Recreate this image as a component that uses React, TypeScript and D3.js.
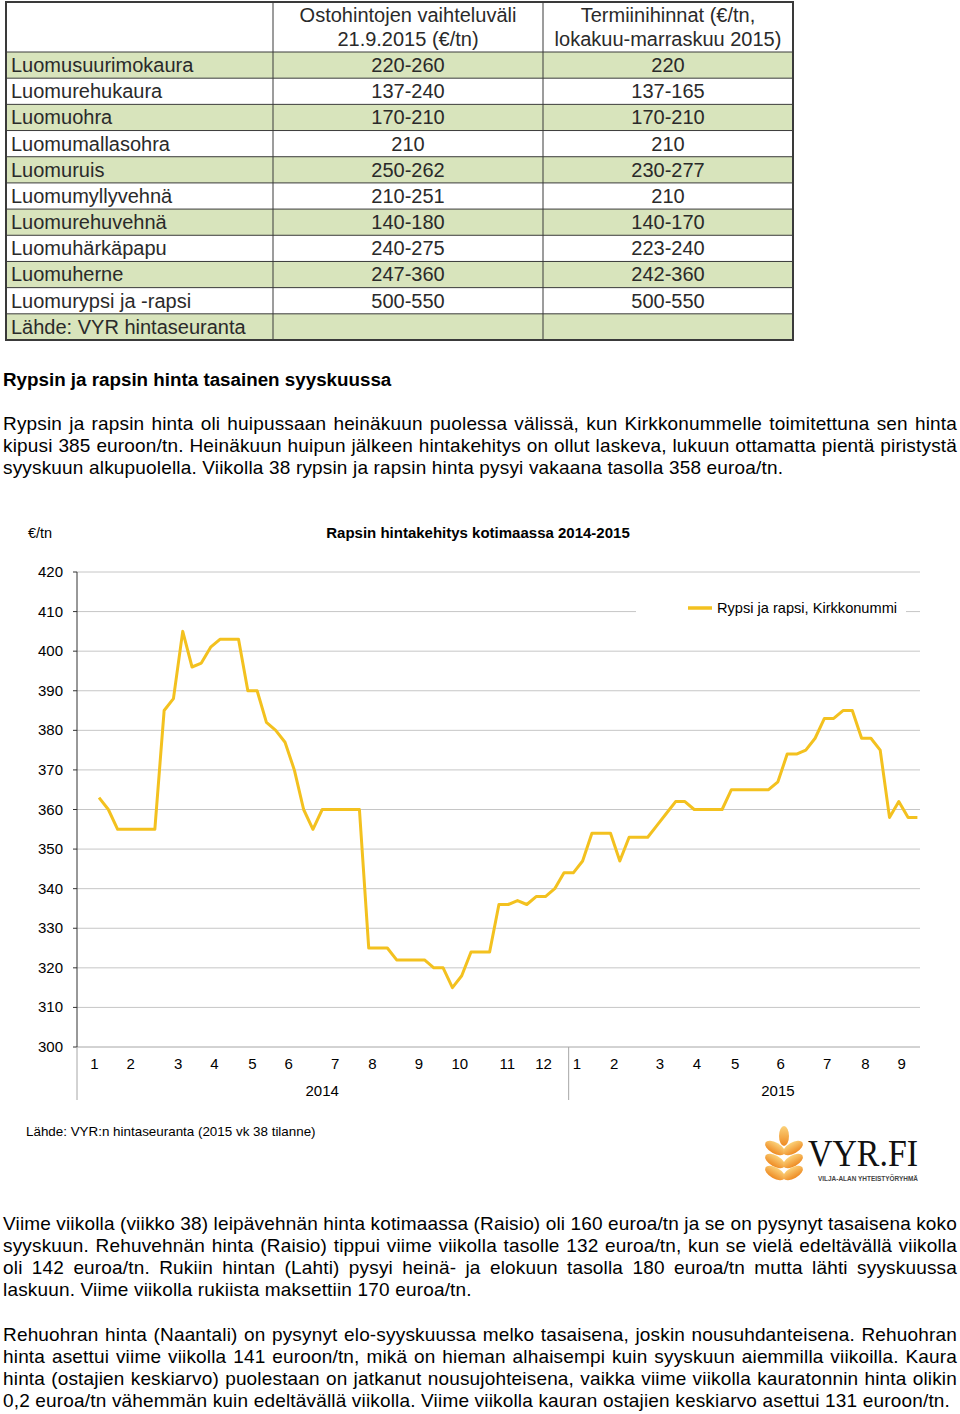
import { useLayoutEffect, useRef } from "react";
import * as d3 from "d3";

const WIDTH = 960;
const HEIGHT = 1414;

// table
const headerPurchase = ["Ostohintojen vaihteluväli", "21.9.2015 (€/tn)"];
const headerFutures = ["Termiinihinnat (€/tn,", "lokakuu-marraskuu 2015)"];
const crops = [
  "Luomusuurimokaura",
  "Luomurehukaura",
  "Luomuohra",
  "Luomumallasohra",
  "Luomuruis",
  "Luomumyllyvehnä",
  "Luomurehuvehnä",
  "Luomuhärkäpapu",
  "Luomuherne",
  "Luomurypsi ja -rapsi",
];
const purchaseRange = ["220-260", "137-240", "170-210", "210", "250-262", "210-251", "140-180", "240-275", "247-360", "500-550"];
const futuresPrice = ["220", "137-165", "170-210", "210", "230-277", "210", "140-170", "223-240", "242-360", "500-550"];
const tableSource = "Lähde: VYR hintaseuranta";

// text
const heading = "Rypsin ja rapsin hinta tasainen syyskuussa";
const para1 = [
  "Rypsin ja rapsin hinta oli huipussaan heinäkuun puolessa välissä, kun Kirkkonummelle toimitettuna sen hinta",
  "kipusi 385 euroon/tn. Heinäkuun huipun jälkeen hintakehitys on ollut laskeva, lukuun ottamatta pientä piristystä",
  "syyskuun alkupuolella. Viikolla 38 rypsin ja rapsin hinta pysyi vakaana tasolla 358 euroa/tn.",
];
const para2 = [
  "Viime viikolla (viikko 38) leipävehnän hinta kotimaassa (Raisio) oli 160 euroa/tn ja se on pysynyt tasaisena koko",
  "syyskuun. Rehuvehnän hinta (Raisio) tippui viime viikolla tasolle 132 euroa/tn, kun se vielä edeltävällä viikolla",
  "oli 142 euroa/tn. Rukiin hintan (Lahti) pysyi heinä- ja elokuun tasolla 180 euroa/tn mutta lähti syyskuussa",
  "laskuun. Viime viikolla rukiista maksettiin 170 euroa/tn.",
];
const para3 = [
  "Rehuohran hinta (Naantali) on pysynyt elo-syyskuussa melko tasaisena, joskin nousuhdanteisena. Rehuohran",
  "hinta asettui viime viikolla 141 euroon/tn, mikä on hieman alhaisempi kuin syyskuun aiemmilla viikoilla. Kaura",
  "hinta (ostajien keskiarvo) puolestaan on jatkanut nousujohteisena, vaikka viime viikolla kauratonnin hinta olikin",
  "0,2 euroa/tn vähemmän kuin edeltävällä viikolla. Viime viikolla kauran ostajien keskiarvo asettui 131 euroon/tn.",
];

// chart: weekly price, 2014 weeks 2-52 and 2015 weeks 1-38
const prices2014 = [
  363, 360, 355, 355, 355, 355, 355, 385, 388, 405, 396, 397, 401, 403, 403, 403, 390, 390, 382, 380, 377, 370, 360, 355,
  360, 360, 360, 360, 360, 325, 325, 325, 322, 322, 322, 322, 320, 320, 315, 318, 324, 324, 324, 336, 336, 337, 336, 338,
  338, 340, 344,
];
const prices2015 = [
  344, 347, 354, 354, 354, 347, 353, 353, 353, 356, 359, 362, 362, 360, 360, 360, 360, 365, 365, 365, 365, 365, 367, 374,
  374, 375, 378, 383, 383, 385, 385, 378, 378, 375, 358, 362, 358, 358,
];
const months2014 = ["1", "2", "3", "4", "5", "6", "7", "8", "9", "10", "11", "12"];
const monthWeeks2014 = [1.5, 5.4, 10.5, 14.4, 18.5, 22.4, 27.4, 31.4, 36.4, 40.8, 45.9, 49.8];
const months2015 = ["1", "2", "3", "4", "5", "6", "7", "8", "9"];
const monthWeeks2015 = [1.4, 5.4, 10.3, 14.3, 18.4, 23.3, 28.3, 32.4, 36.3];
const years = ["2014", "2015"];
const yTicks = [300, 310, 320, 330, 340, 350, 360, 370, 380, 390, 400, 410, 420];
const seriesName = "Rypsi ja rapsi, Kirkkonummi";
const chartTitle = "Rapsin hintakehitys kotimaassa 2014-2015";
const chartSource = "Lähde: VYR:n hintaseuranta (2015 vk 38 tilanne)";

const SANS = "'Liberation Sans', Arial, sans-serif";
const LINE_COLOR = "#f3c11f";

export default function App() {
  const svgRef = useRef<SVGSVGElement>(null);

  // justify paragraph lines by word spacing
  useLayoutEffect(() => {
    d3.select(svgRef.current)
      .selectAll<SVGTextElement, unknown>("text.justify")
      .each(function () {
        this.style.wordSpacing = "0px";
        const natural = this.getComputedTextLength();
        const target = Number(this.getAttribute("data-width"));
        const spaces = (this.textContent || "").split(" ").length - 1;
        if (spaces > 0) this.style.wordSpacing = `${(target - natural) / spaces}px`;
      });
  }, []);

  // table scales
  const rows = [...crops, tableSource];
  const rowY = d3.scaleBand<number>().domain(d3.range(rows.length)).range([52, 340]);
  const colX = [6, 273, 543, 793];

  // chart scales
  const allPrices = [...prices2014, ...prices2015];
  const x = d3.scaleLinear().domain([-2.37, 88.28]).range([77, 920]);
  const y = d3.scaleLinear().domain([300, 420]).range([1047, 572]);
  const linePath = d3
    .line<number>()
    .x((_, i) => x(i))
    .y((d) => y(d))(allPrices);
  const offset2014 = -2;
  const offset2015 = prices2014.length - 1;
  const yearSplit = x(prices2014.length - 0.5);
  const yearCenters = [x(24), x(73)];

  const paragraph = (lines: string[], top: number) =>
    lines.map((t, i) => {
      const last = i === lines.length - 1;
      return (
        <text
          key={t}
          x={3}
          y={top + i * 22}
          className={last ? undefined : "justify"}
          data-width={954}
          fontSize={19}
          letterSpacing={0.17}
        >
          {t}
        </text>
      );
    });

  return (
    <svg
      ref={svgRef}
      width={WIDTH}
      height={HEIGHT}
      viewBox={`0 0 ${WIDTH} ${HEIGHT}`}
      style={{ position: "absolute", left: 0, top: 0, background: "#fff" }}
      fontFamily={SANS}
    >
      <defs>
        <linearGradient id="wheat" x1="0" y1="0" x2="0" y2="1">
          <stop offset="0" stopColor="#fbd27a" />
          <stop offset="1" stopColor="#ee8a22" />
        </linearGradient>
      </defs>

      {/* table */}
      <g fontSize={20} fill="#2a2a2a">
        {rows.map((_, i) =>
          i % 2 === 0 ? (
            <rect key={i} x={colX[0]} y={rowY(i)} width={colX[3] - colX[0]} height={rowY.bandwidth()} fill="#d8e4bc" />
          ) : null
        )}
        {rows.map((_, i) => (
          <line key={i} x1={colX[0]} x2={colX[3]} y1={rowY(i)} y2={rowY(i)} stroke="#3a3a3a" strokeWidth={1} />
        ))}
        {colX.slice(1, 3).map((cx) => (
          <line key={cx} x1={cx} x2={cx} y1={2} y2={340} stroke="#3a3a3a" strokeWidth={1} />
        ))}
        <rect x={colX[0]} y={2} width={colX[3] - colX[0]} height={338} fill="none" stroke="#3a3a3a" strokeWidth={2} />
        {[headerPurchase, headerFutures].map((h, c) =>
          h.map((t, j) => (
            <text key={t} x={(colX[c + 1] + colX[c + 2]) / 2} y={22 + j * 24} textAnchor="middle">
              {t}
            </text>
          ))
        )}
        {rows.map((t, i) => (
          <text key={t} x={11} y={(rowY(i) as number) + 20}>
            {t}
          </text>
        ))}
        {crops.map((_, i) => (
          <g key={i}>
            <text x={(colX[1] + colX[2]) / 2} y={(rowY(i) as number) + 20} textAnchor="middle">
              {purchaseRange[i]}
            </text>
            <text x={(colX[2] + colX[3]) / 2} y={(rowY(i) as number) + 20} textAnchor="middle">
              {futuresPrice[i]}
            </text>
          </g>
        ))}
      </g>

      {/* text above chart */}
      <g fill="#000">
        <text x={3} y={386} fontSize={18.8} fontWeight="bold">
          {heading}
        </text>
        {paragraph(para1, 430)}
      </g>

      {/* chart */}
      <g fill="#000">
        <text x={28} y={538} fontSize={14.5}>
          €/tn
        </text>
        <text x={478} y={538} fontSize={15} fontWeight="bold" textAnchor="middle">
          {chartTitle}
        </text>
        {yTicks.map((t) => (
          <g key={t}>
            {t > 300 ? <line x1={77} x2={920} y1={y(t)} y2={y(t)} stroke="#c6c6c6" strokeWidth={1} /> : null}
            <line x1={73} x2={77} y1={y(t)} y2={y(t)} stroke="#333" />
            <text x={63} y={y(t) + 5} fontSize={15} textAnchor="end">
              {t}
            </text>
          </g>
        ))}
        <line x1={77} x2={920} y1={y(300)} y2={y(300)} stroke="#a6a6a6" />
        <line x1={77} x2={77} y1={y(300)} y2={1100} stroke="#a6a6a6" />
        <line x1={yearSplit} x2={yearSplit} y1={y(300)} y2={1100} stroke="#a6a6a6" />
        <line x1={77} x2={77} y1={y(420)} y2={y(300)} stroke="#333" />
        {months2014.map((m, i) => (
          <text key={`a${m}`} x={x(monthWeeks2014[i] + offset2014)} y={1069} fontSize={15} textAnchor="middle">
            {m}
          </text>
        ))}
        {months2015.map((m, i) => (
          <text key={`b${m}`} x={x(monthWeeks2015[i] + offset2015)} y={1069} fontSize={15} textAnchor="middle">
            {m}
          </text>
        ))}
        {years.map((yr, i) => (
          <text key={yr} x={yearCenters[i]} y={1096} fontSize={15} textAnchor="middle">
            {yr}
          </text>
        ))}
        <rect x={636} y={598} width={270} height={22} fill="#fff" />
        <line x1={688} x2={712} y1={608} y2={608} stroke={LINE_COLOR} strokeWidth={3.5} />
        <text x={717} y={613} fontSize={14.6}>
          {seriesName}
        </text>
        <path d={linePath ?? ""} fill="none" stroke={LINE_COLOR} strokeWidth={3} strokeLinejoin="round" />
        <text x={26} y={1136} fontSize={13.4}>
          {chartSource}
        </text>
      </g>

      {/* logo */}
      <g fill="url(#wheat)">
        <ellipse cx={784} cy={1136} rx={5} ry={10} />
        {[1148, 1161, 1173].map((cy) => (
          <g key={cy}>
            <ellipse cx={775} cy={cy} rx={11} ry={5.5} transform={`rotate(30 775 ${cy})`} />
            <ellipse cx={793} cy={cy} rx={11} ry={5.5} transform={`rotate(-30 793 ${cy})`} />
          </g>
        ))}
      </g>
      <text
        x={808}
        y={1166}
        fontFamily="'Liberation Serif', 'DejaVu Serif', serif"
        fontSize={38}
        textLength={110}
        lengthAdjust="spacingAndGlyphs"
        fill="#111"
      >
        VYR.FI
      </text>
      <text x={818} y={1181} fontSize={6.5} fontWeight="bold" textLength={100} lengthAdjust="spacingAndGlyphs" fill="#444">
        VILJA-ALAN YHTEISTYÖRYHMÄ
      </text>

      {/* text below chart */}
      <g fill="#000">
        {paragraph(para2, 1230)}
        {paragraph(para3, 1341)}
      </g>
    </svg>
  );
}
